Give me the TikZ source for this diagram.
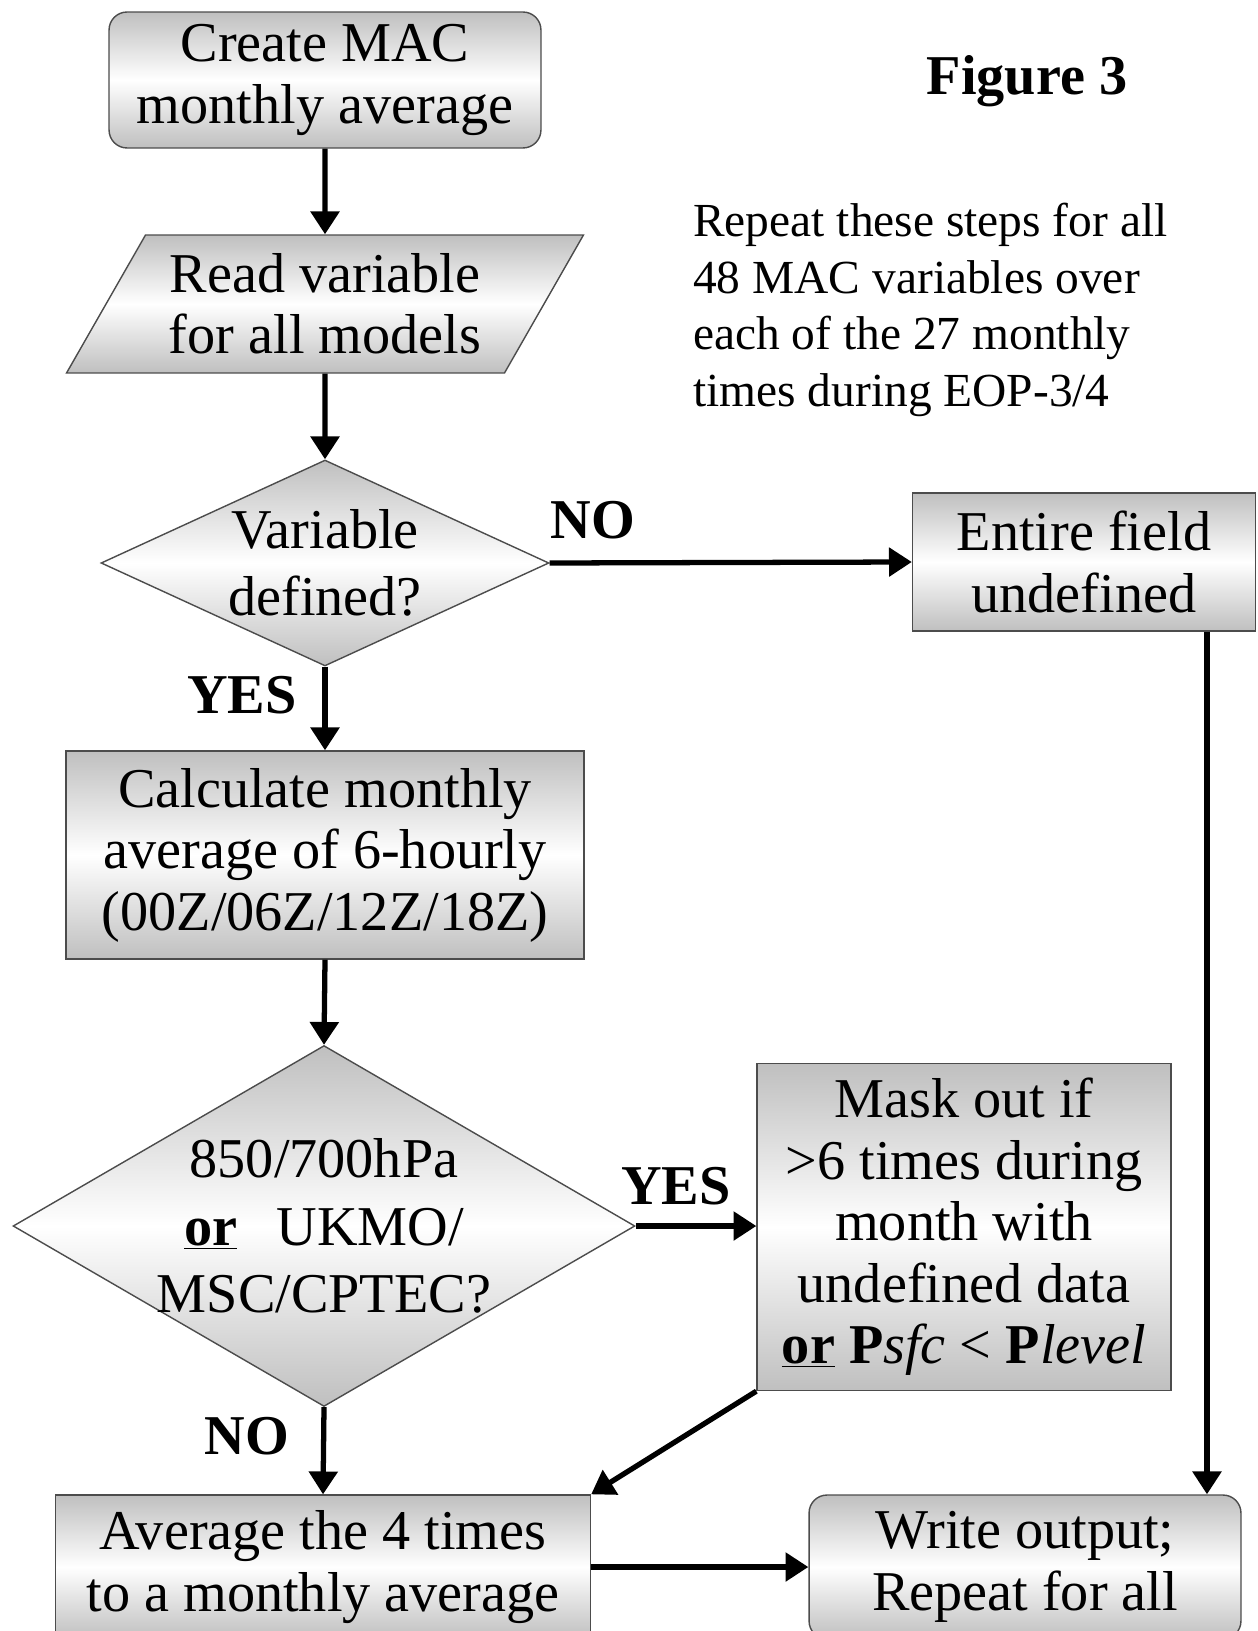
\documentclass[tikz,border=0pt]{standalone}
\usepackage{fontspec}
\setmainfont{Liberation Serif}
\usetikzlibrary{arrows.meta,positioning,shapes.geometric,calc}

\begin{document}
\begin{tikzpicture}[
    x=0.02cm, y=-0.02cm,
    >={Triangle[length=13pt,width=16pt]},
    flow/.style={
        ->,
        line width=3pt,
        black
    },
    shaded/.style={
        draw=black!70,
        line width=0.8pt,
        top color=gray!50,
        bottom color=gray!50,
        middle color=white,
        font=\fontsize{32}{35}\selectfont,
        align=center,
        inner sep=0pt
    },
    procbox/.style={shaded, rectangle},
    terminal/.style={shaded, rectangle, rounded corners=0.36cm},
    iobox/.style={
        shaded,
        trapezium,
        trapezium left angle=52,
        trapezium right angle=128,
        trapezium stretches body
    },
    decision/.style={shaded, diamond},
    qtext/.style={
        font=\fontsize{32}{38.5}\selectfont,
        align=center
    },
    answer/.style={font=\fontsize{32}{35}\selectfont\bfseries}
]
\useasboundingbox (0,0) rectangle (1257,1631);
\clip (0,0) rectangle (1257,1631);

% Main column
\node[terminal, minimum width=8.64cm, minimum height=2.72cm] (create) at (325,80) {Create MAC\\monthly average};
\node[iobox, minimum width=10.34cm, minimum height=2.76cm] (readvar) at (325,304) {Read variable\\for all models};
\node[decision, minimum width=8.96cm, minimum height=4.12cm,
      label={[qtext]center:{Variable\\defined?}}] (vardef) at (325,563) {};
\node[procbox, minimum width=10.36cm, minimum height=4.16cm] (calc) at (325,855) {Calculate monthly\\average of 6-hourly\\(00Z/06Z/12Z/18Z)};
\node[decision, minimum width=12.44cm, minimum height=7.22cm,
      label={[qtext]center:{850/700hPa\\\underline{\textbf{or}}\hspace{0.7em}UKMO/\\MSC/CPTEC?}}] (check) at (324,1226) {};
\node[procbox, minimum width=10.7cm, minimum height=2.88cm] (avg) at (323,1567) {Average the 4 times\\to a monthly average};

% Right column
\node[procbox, minimum width=6.86cm, minimum height=2.76cm] (undef) at (1084,562) {Entire field\\undefined};
\node[procbox, minimum width=8.28cm, minimum height=6.54cm] (mask) at (964,1227) {Mask out if\\>6 times during\\month with\\undefined data\\\underline{\textbf{or}} \textbf{P}\textit{sfc} < \textbf{P}\textit{level}};
\node[terminal, minimum width=8.64cm, minimum height=2.88cm] (write) at (1025,1567) {Write output;\\Repeat for all};

% Title and note
\node[font=\fontsize{32}{35}\selectfont\bfseries] (title) at (1027,81) {Figure 3};
\node[font=\fontsize{27}{32.3}\selectfont, align=left, anchor=west] (note) at (687,310)
  {Repeat these steps for all\\48 MAC variables over\\each of the 27 monthly\\times during EOP-3/4};

% Connectors
\draw[flow] (create.south) -- (readvar.north);
\draw[flow] (readvar.south) -- (vardef.north);
\draw[flow] (vardef.east) -- (undef.west);
\draw[flow] (vardef.south) -- (calc.north);
\draw[flow] (calc.south) -- (check.north);
\draw[flow] (check.east) -- (check.east -| mask.west);
\draw[flow] (check.south) -- (avg.north);
\draw[flow] (mask.south west) -- (avg.north east);
\draw[flow] (avg.east) -- (avg.east -| write.west);
\draw[flow] ([xshift=2.46cm]undef.south) -- ([xshift=2.46cm]undef.south |- write.north);

% Branch labels
\node[answer] (no1) at (593,520) {NO};
\node[answer] (yes1) at (242,695) {YES};
\node[answer] (yes2) at (676,1186) {YES};
\node[answer] (no2) at (247,1436) {NO};

\end{tikzpicture}
\end{document}
